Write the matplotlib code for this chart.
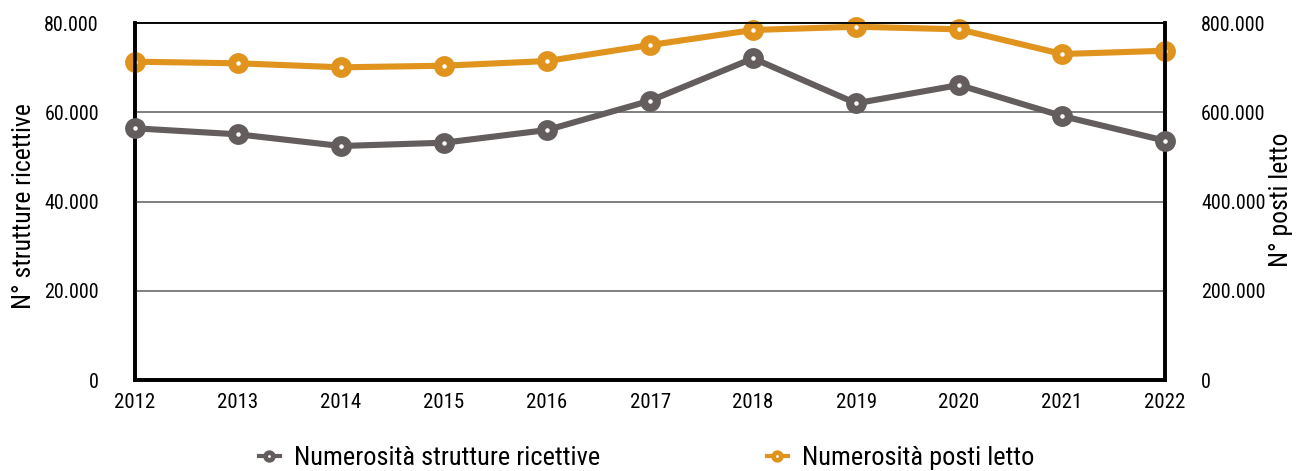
import matplotlib
matplotlib.use("Agg")
import matplotlib.pyplot as plt
from matplotlib import font_manager
from matplotlib.lines import Line2D
from matplotlib.ticker import FuncFormatter

# serie annuali: strutture ricettive (asse sx) e posti letto (asse dx)
anni = [2012, 2013, 2014, 2015, 2016, 2017, 2018, 2019, 2020, 2021, 2022]
strutture = [56450, 55100, 52480, 53220, 56070, 62640, 72150, 62060, 66160, 59210, 53670]
posti_letto = [713900, 710300, 701300, 704900, 715400, 751300, 785000, 792400, 786500, 731100, 738500]

GRIGIO = "#635d5d"
ORO = "#e0941e"

# font stretto se disponibile
nomi = {f.name for f in font_manager.fontManager.ttflist}
famiglia = "DejaVu Sans"
for cand in ["Roboto Condensed", "Liberation Sans Narrow", "Open Sans Condensed"]:
    if cand in nomi:
        famiglia = cand
        break
plt.rcParams["font.family"] = [famiglia, "DejaVu Sans"]
if famiglia == "DejaVu Sans":
    plt.rcParams["font.stretch"] = "condensed"


def migliaia(v, pos):
    return f"{int(round(v)):,}".replace(",", ".")


fig = plt.figure(figsize=(12.96, 4.71), dpi=100)
ax = fig.add_axes([0.1042, 0.1932, 0.7948, 0.7573])
ax2 = ax.twinx()

stile = dict(marker="o", markersize=9.2, markeredgewidth=5.8,
             markerfacecolor="white", linewidth=4.4, solid_capstyle="round",
             clip_on=False)
ax.plot(anni, strutture, color=GRIGIO, markeredgecolor=GRIGIO, zorder=5, **stile)
ax2.plot(anni, posti_letto, color=ORO, markeredgecolor=ORO, zorder=5, **stile)

ax.set_xlim(2012, 2022)
ax.set_ylim(0, 80000)
ax2.set_ylim(0, 800000)
ax.set_yticks([0, 20000, 40000, 60000, 80000])
ax2.set_yticks([0, 200000, 400000, 600000, 800000])
ax.yaxis.set_major_formatter(FuncFormatter(migliaia))
ax2.yaxis.set_major_formatter(FuncFormatter(migliaia))
ax.set_xticks(anni)

ax.grid(axis="y", color="#6a6a6a", linewidth=1.2)
ax.set_axisbelow(True)

for a in (ax, ax2):
    a.tick_params(axis="both", length=0, labelsize=14.5, colors="black")
    a.patch.set_visible(False)
    for s in a.spines.values():
        s.set_color("black")
    a.spines["top"].set_linewidth(1.2)
    a.spines["left"].set_linewidth(2.6)
    a.spines["right"].set_linewidth(2.6)
    a.spines["bottom"].set_linewidth(2.6)
ax.tick_params(axis="y", pad=26)
ax2.tick_params(axis="y", pad=26)
ax.tick_params(axis="x", pad=9, labelsize=15)
ax.set_zorder(ax2.get_zorder() + 1)

# titoli degli assi verticali
fig.text(0.0185, 0.563, "N° strutture ricettive", rotation=90,
         ha="center", va="center", fontsize=18.5)
fig.text(0.9885, 0.575, "N° posti letto", rotation=90,
         ha="center", va="center", fontsize=18.5)

maniglie = [
    Line2D([], [], color=GRIGIO, marker="o", markersize=5.5, markeredgewidth=3.4,
           markerfacecolor="white", linewidth=3),
    Line2D([], [], color=ORO, marker="o", markersize=5.5, markeredgewidth=3.4,
           markerfacecolor="white", linewidth=3),
]
fig.legend(maniglie, ["Numerosità strutture ricettive", "Numerosità posti letto"],
           loc="center", bbox_to_anchor=(0.499, 0.028), ncol=2, frameon=False,
           fontsize=19, handlelength=0.8, handletextpad=0.55, columnspacing=6.3)

fig.savefig("out.png", dpi=100)
